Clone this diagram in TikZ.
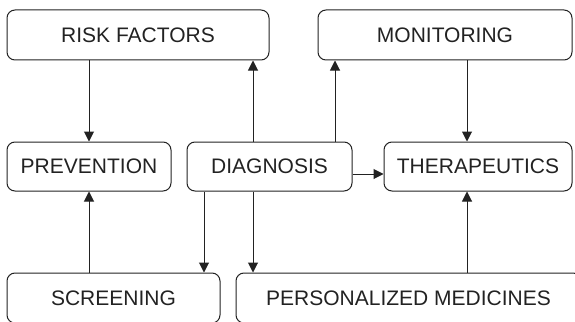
\documentclass[tikz,border=0pt]{standalone}
\usepackage{fontspec}
\setmainfont{Liberation Sans}
\usetikzlibrary{arrows.meta}
\definecolor{ink}{HTML}{222222}
\begin{document}
\begin{tikzpicture}[x=1pt,y=-1pt,
  box/.style={draw=ink, line width=1pt, rounded corners=8pt, inner sep=0pt,
    text=ink, font=\fontsize{21}{24}\selectfont, anchor=center},
  arr/.style={draw=ink, line width=1pt, -{Triangle[length=10pt,width=10pt]}}]
\clip (0,0) rectangle (575,321);
\useasboundingbox (0,0) rectangle (575,321);
\node[box, minimum width=262pt, minimum height=50pt] (risk) at (138,35) {RISK FACTORS};
\node[box, minimum width=254pt, minimum height=50pt] (mon) at (445,35) {MONITORING};
\node[box, minimum width=164pt, minimum height=49pt] (prev) at (89,166.5) {PREVENTION};
\node[box, minimum width=165pt, minimum height=49pt] (diag) at (269.5,166.5) {DIAGNOSIS};
\node[box, minimum width=188pt, minimum height=49pt] (ther) at (478,166.5) {THERAPEUTICS};
\node[box, minimum width=213pt, minimum height=50pt] (scr) at (113.5,298) {SCREENING};
\node[box, minimum width=345pt, minimum height=50pt] (pers) at (408.5,298) {PERSONALIZED MEDICINES};
\draw[arr] (risk.south -| prev.north) -- (prev.north);
\draw[arr] (scr.north -| prev.south) -- (prev.south);
\draw[arr] ([xshift=-16.5pt]diag.north) -- ([xshift=-16.5pt]diag.north |- risk.south);
\draw[arr] ([xshift=65.5pt]diag.north) -- ([xshift=65.5pt]diag.north |- mon.south);
\draw[arr] ([xshift=-11pt]ther.north |- mon.south) -- ([xshift=-11pt]ther.north);
\draw[arr] ([xshift=-11pt]ther.south |- pers.north) -- ([xshift=-11pt]ther.south);
\draw[arr] ([yshift=-7.5pt]diag.east) -- ([yshift=-7.5pt]diag.east -| ther.west);
\draw[arr] ([xshift=-65.5pt]diag.south) -- ([xshift=-65.5pt]diag.south |- scr.north);
\draw[arr] ([xshift=-16.5pt]diag.south) -- ([xshift=-16.5pt]diag.south |- pers.north);
\end{tikzpicture}
\end{document}
